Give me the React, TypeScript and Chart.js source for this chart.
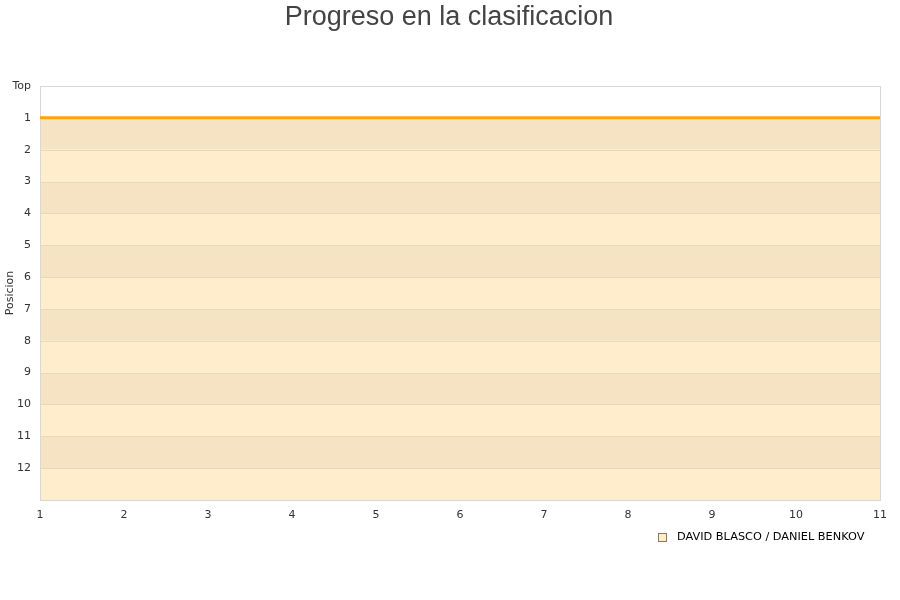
import React, { useEffect, useRef } from "react";
import { Chart, registerables } from "chart.js";

Chart.register(...registerables);

const TITLE = "Progreso en la clasificacion";
const SERIES_LABEL = "DAVID BLASCO / DANIEL BENKOV";
const rounds = [1, 2, 3, 4, 5, 6, 7, 8, 9, 10, 11];
const positions = [1, 1, 1, 1, 1, 1, 1, 1, 1, 1, 1];
const yTickLabels: Record<number, string> = { 0: "Top", 13: "" };
const Y_AXIS_TITLE = "Posicion";

const LINE_COLOR = "#FFA500";
const BAND_DARK = "#F5E3C3";
const BAND_LIGHT = "#FFEDCC";

const bandsPlugin = {
  id: "bands",
  beforeDatasetsDraw(chart: any) {
    const { ctx, chartArea, scales } = chart;
    const y = scales.y;
    ctx.save();
    for (let i = 1; i <= 12; i++) {
      const y1 = y.getPixelForValue(i);
      const y2 = y.getPixelForValue(i + 1);
      ctx.fillStyle = i % 2 === 1 ? BAND_DARK : BAND_LIGHT;
      ctx.fillRect(chartArea.left, y1, chartArea.right - chartArea.left, y2 - y1);
    }
    ctx.strokeStyle = "#EBD8B5";
    ctx.lineWidth = 1;
    for (let i = 2; i <= 12; i++) {
      const yy = Math.round(y.getPixelForValue(i)) + 0.5;
      ctx.beginPath();
      ctx.moveTo(chartArea.left, yy);
      ctx.lineTo(chartArea.right, yy);
      ctx.stroke();
    }
    ctx.strokeStyle = "#D8D8D8";
    ctx.strokeRect(
      Math.round(chartArea.left) + 0.5,
      Math.round(chartArea.top) + 0.5,
      Math.round(chartArea.right - chartArea.left),
      Math.round(chartArea.bottom - chartArea.top)
    );
    ctx.restore();
  },
  afterDraw(chart: any) {
    const { ctx } = chart;
    const label = chart.data.datasets[0].label;
    ctx.save();
    // title
    ctx.fillStyle = "#444";
    ctx.font = "27px 'Liberation Sans', Arial, sans-serif";
    ctx.textAlign = "center";
    ctx.textBaseline = "middle";
    ctx.fillText(TITLE, 449, 17.5);
    // legend
    ctx.fillStyle = BAND_LIGHT;
    ctx.strokeStyle = "#8a7a5a";
    ctx.lineWidth = 1;
    ctx.fillRect(659, 534, 7, 7);
    ctx.strokeRect(658.5, 533.5, 8, 8);
    ctx.fillStyle = "#000";
    ctx.font = "11.3px 'DejaVu Sans'";
    ctx.textBaseline = "middle";
    ctx.textAlign = "left";
    ctx.fillText(label, 677, 537.5);
    ctx.restore();
  },
};

export default function App() {
  const ref = useRef<HTMLCanvasElement>(null);
  useEffect(() => {
    const chart = new Chart(ref.current!, {
      type: "line",
      data: {
        datasets: [
          {
            label: SERIES_LABEL,
            data: rounds.map((r, i) => ({ x: r, y: positions[i] })),
            borderColor: LINE_COLOR,
            backgroundColor: LINE_COLOR,
            borderWidth: 3,
            pointRadius: 0,
            tension: 0,
          },
        ],
      },
      options: {
        animation: false,
        responsive: false,
        layout: { padding: { top: 86, right: 20, bottom: 0, left: 0 } },
        plugins: {
          legend: { display: false },
          tooltip: { enabled: false },
          title: { display: false },
        },
        scales: {
          x: {
            type: "linear",
            min: 1,
            max: 11,
            ticks: {
              stepSize: 1,
              color: "#333",
              font: { family: "'DejaVu Sans'", size: 11 },
              padding: 9,
              maxRotation: 0,
            },
            grid: { display: false, drawTicks: false },
            border: { display: false },
            afterFit(scale: any) {
              scale.height = 100;
            },
          },
          y: {
            type: "linear",
            reverse: true,
            min: 0,
            max: 13,
            ticks: {
              stepSize: 1,
              color: "#333",
              font: { family: "'DejaVu Sans'", size: 11 },
              padding: 9,
              callback: (v: any) => (v in yTickLabels ? yTickLabels[v] : String(v)),
            },
            title: {
              display: true,
              text: Y_AXIS_TITLE,
              color: "#333",
              font: { family: "'DejaVu Sans'", size: 11 },
              padding: { top: 4, bottom: 0 },
            },
            grid: { display: false, drawTicks: false },
            border: { display: false },
            afterFit(scale: any) {
              scale.width = 40;
            },
          },
        },
      },
      plugins: [bandsPlugin],
    });
    return () => chart.destroy();
  }, []);
  return (
    <div style={{ position: "fixed", left: 0, top: 0, width: 900, height: 600, background: "#fff" }}>
      <canvas ref={ref} width={900} height={600} style={{ width: 900, height: 600 }} />
    </div>
  );
}
